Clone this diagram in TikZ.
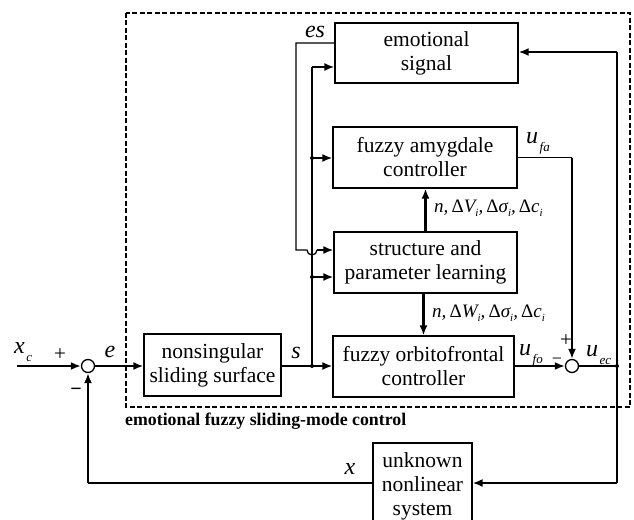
\documentclass[tikz,border=0pt]{standalone}
\usepackage{fontspec}
\setmainfont{Liberation Serif}
\usetikzlibrary{arrows.meta,calc}
\newcommand{\sbx}[1]{\hspace{1.5pt}\raisebox{-0.33em}{\fontsize{13}{13}\selectfont\itshape #1}}
\newcommand{\sbi}{\raisebox{-0.22em}{\fontsize{11}{11}\selectfont\itshape i}}
\newcommand{\Dl}{\textup{Δ}}
\begin{document}
\begin{tikzpicture}[x=1pt,y=-1pt,
  blk/.style={draw, line width=1.2pt, align=center, inner sep=0pt,
    font=\fontsize{21.5}{24}\selectfont},
  sumc/.style={draw, circle, line width=1.3pt, minimum size=13pt, inner sep=0pt, fill=white},
  thinl/.style={line width=1.3pt},
  thickarr/.style={line width=2.5pt, -{Latex[length=10pt,width=8pt]}},
  lab/.style={font=\fontsize{24}{24}\selectfont\itshape, inner sep=0pt},
  plab/.style={font=\fontsize{19}{19}\selectfont\itshape, inner sep=0pt, anchor=west},
  sign/.style={font=\fontsize{21}{21}\selectfont, inner sep=0pt},
  dot/.style={fill, circle, minimum size=4pt, inner sep=0pt}
]
\useasboundingbox (0,0) rectangle (634,519);

% dashed frame
\draw[line width=2.2pt, dash pattern=on 5pt off 2.5pt] (126,13) rectangle (630,407);
\node[anchor=west, inner sep=0pt, font=\bfseries\fontsize{17.8}{20}\selectfont] (title) at (125,421) {emotional fuzzy sliding-mode control};

% blocks
\node[blk, minimum width=183pt, minimum height=60pt] (emo) at (426.5,53) {emotional\\signal};
\node[blk, minimum width=184pt, minimum height=61pt] (amyg) at (425,157.5) {fuzzy amygdale\\controller};
\node[blk, minimum width=183pt, minimum height=61pt] (learn) at (425.5,262.5) {structure and\\parameter learning};
\node[blk, minimum width=181pt, minimum height=61pt] (orbit) at (423.5,366.5) {fuzzy orbitofrontal\\controller};
\node[blk, minimum width=137pt, minimum height=62pt] (nons) at (212.5,365) {nonsingular\\sliding surface};
\node[blk, minimum width=99pt, minimum height=86pt] (plant) at (422.5,486) {unknown\\nonlinear\\system};

% summing junctions
\node[sumc] (sum1) at (88,366) {};
\node[sumc] (sum2) at (572,366) {};

% coordinates
\coordinate (in) at (17,366);
\coordinate (b0) at (312,366);
\coordinate (b1) at (312,277);
\coordinate (b2) at (312,158);
\coordinate (b3) at (312,67);
\coordinate (esA) at (335,43);
\coordinate (esB) at (296,43);
\coordinate (esC) at (296,250);
\coordinate (hopA) at (307,250);
\coordinate (r0) at (617,366);
\coordinate (rt) at (617,52);
\coordinate (rb) at (617,483);
\coordinate (fb) at (88,483);
\coordinate (ufa) at (572,157.5);

% main forward path
\draw[thickarr] (in) -- (sum1.west);
\draw[thickarr] (sum1.east) -- (nons.west |- sum1.east);
\draw[thickarr] (nons.east |- b0) -- (orbit.west |- b0);

% bus
\draw[thinl] (b0) -- (b3);
\draw[thickarr] (b3) -- (b3 -| emo.west);
\draw[thickarr] (b2) -- (b2 -| amyg.west);
\draw[thickarr] (b1) -- (b1 -| learn.west);

% es feedback with hop
\draw[thinl] (esA) -- (esB) -- (esC) -- (hopA) arc[start angle=180, end angle=360, radius=5pt];
\draw[thickarr] (317,250) -- (learn.west |- esC);

% learning outputs
\draw[thickarr] (learn.north) -- (learn.north |- amyg.south);
\draw[thickarr] (orbit.north |- learn.south) -- (orbit.north);

% controller outputs
\draw[thinl] (amyg.east |- ufa) -- (ufa);
\draw[thickarr] (ufa) -- (sum2.north);
\draw[thickarr] (orbit.east |- sum2) -- (sum2.west);
\draw[thinl] (sum2.east) -- (r0);

% right feedback
\draw[thinl] (rt) -- (rb);
\draw[thickarr] (rt) -- (emo.east |- rt);
\draw[thickarr] (rb) -- (plant.east |- rb);

% plant output feedback
\draw[thinl] (plant.west |- rb) -- (fb);
\draw[thickarr] (fb) -- (sum1.south);

% junction dots
\node[dot] at (b0) {};
\node[dot] at (b1) {};
\node[dot] at (b2) {};
\node[dot] at (r0) {};

% labels
\node[lab, anchor=west] (lxc) at (14,352) {x\sbx{c}};
\node[sign] (lp1) at (60,355) {+};
\node[sign, font=\bfseries\fontsize{20}{20}\selectfont] (lm1) at (76,392) {−};
\node[lab] (le) at (110,352) {e};
\node[lab] (ls) at (296,353) {s};
\node[lab] (les) at (315,32) {es};
\node[lab, anchor=west] (lufa) at (526,143) {u\sbx{fa}};
\node[lab, anchor=west] (lufo) at (519,355) {u\sbx{fo}};
\node[lab, anchor=west] (luec) at (586,355) {u\sbx{ec}};
\node[sign] (lp2) at (566,341) {+};
\node[sign, font=\fontsize{18}{18}\selectfont] (lm2) at (557,361) {−};
\node[lab] (lx) at (350,469) {x};
\node[plab] (lv) at (434,208) {n,\,\Dl\textit{V}\sbi,\,\Dl\textit{σ}\sbi,\,\Dl\textit{c}\sbi};
\node[plab] (lw) at (432,313) {n,\,\Dl\textit{W}\sbi,\,\Dl\textit{σ}\sbi,\,\Dl\textit{c}\sbi};
\end{tikzpicture}
\end{document}
